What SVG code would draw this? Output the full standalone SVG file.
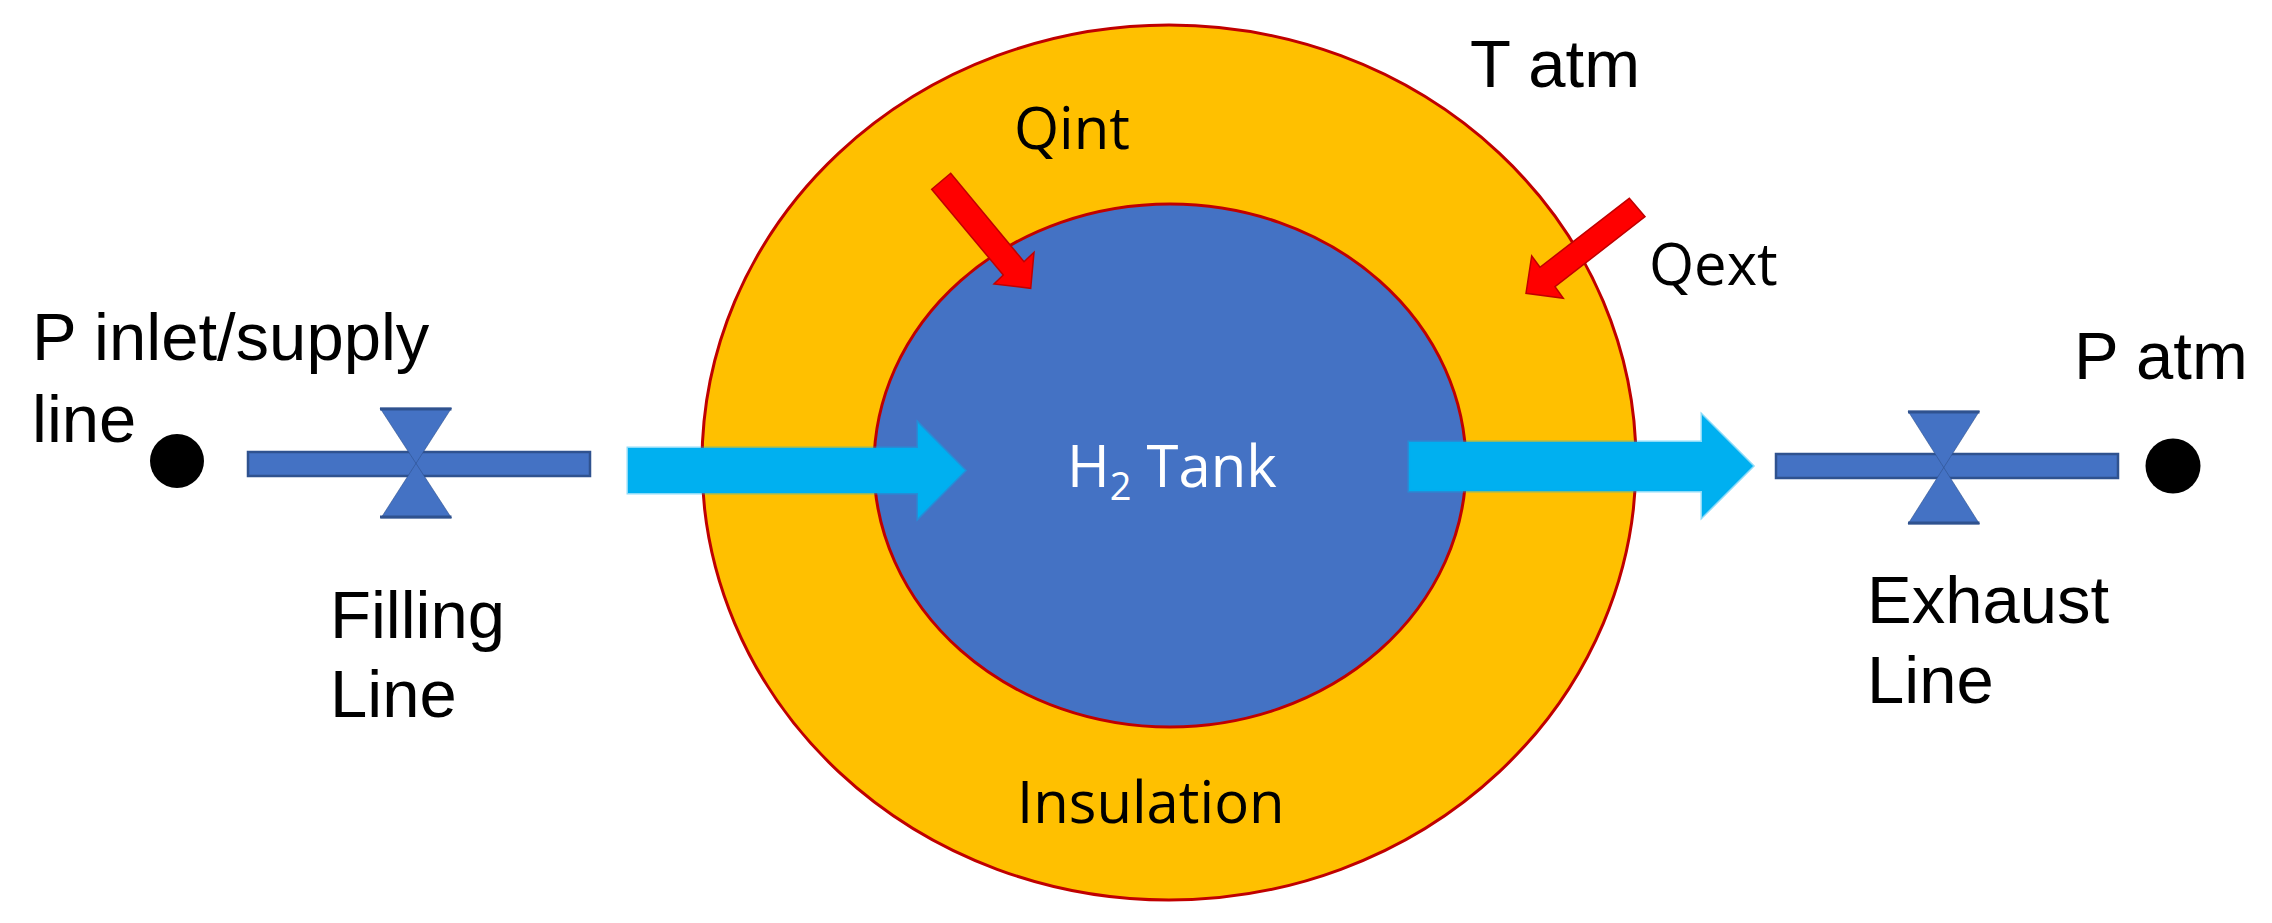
<svg xmlns="http://www.w3.org/2000/svg" width="2272" height="923" viewBox="0 0 2272 923">
<style>
text{font-family:"Liberation Sans",Arial,sans-serif;fill:#000}
.big{font-size:67px}
text.seg{font-family:"Open Sans","Liberation Sans",sans-serif;font-size:58px}
.ring{stroke:#c00000;stroke-width:3}
.bar{fill:#4472c4;stroke:#2f528f;stroke-width:2.500}
.valve{fill:#4472c4;stroke:#2f528f;stroke-width:1;stroke-opacity:.6}
.cap{stroke:#2f528f;stroke-width:3;fill:none}
.flow{fill:#00b0f0;stroke:#00b0f0;stroke-width:3;stroke-opacity:.45}
.heat{fill:#f00;stroke:#c00000;stroke-width:1.500}
</style>
<rect width="2272" height="923" fill="#fff"/>
<g id="insulation"><ellipse class="ring" cx="1169" cy="462.500" rx="467" ry="437.500" fill="#ffc000"/><text class="seg" x="1017" y="823">Insulation</text></g>
<g id="tank"><ellipse class="ring" cx="1170" cy="465.500" rx="296" ry="261.500" fill="#4472c4"/><text class="seg" x="1067" y="487" style="fill:#fff">H<tspan dy="13" style="font-size:38px">2</tspan><tspan dy="-13"> Tank</tspan></text></g>
<g id="filling-line"><rect class="bar" x="248" y="452" width="342" height="24"/><path class="valve" d="M380 408H451.500L381 518H451.500Z"/><path class="cap" d="M380 409H451.500M380 517H451.500"/><text class="big" x="330" y="638">Filling</text><text class="big" x="330" y="717">Line</text></g>
<g id="exhaust-line"><rect class="bar" x="1776" y="454" width="342" height="24"/><path class="valve" d="M1908 411H1979.500L1908 524H1979.500Z"/><path class="cap" d="M1908 412H1979.500M1908 523H1979.500"/><text class="big" x="1867" y="623">Exhaust</text><text class="big" x="1867" y="703">Line</text></g>
<g id="inlet"><circle cx="177" cy="461" r="27"/><text class="big" x="32" y="360">P inlet/supply</text><text class="big" x="32" y="442">line</text></g>
<g id="outlet"><circle cx="2173" cy="466" r="27.500"/><text class="big" x="2074" y="379">P atm</text></g>
<g id="t-atm"><text class="big" x="1470" y="87">T atm</text></g>
<g id="qint"><text class="seg" x="1014" y="149">Qint</text></g>
<g id="qext"><text class="seg" x="1649" y="285">Qext</text></g>
<g id="connectors">
<path class="flow" d="M628 448H918V423L965 470.500L918 518V493H628Z"/>
<path class="flow" d="M1409 442H1702V415L1753 466L1702 517V491H1409Z"/>
<path class="heat" d="M950.700 173.300L931.700 189.300L1003.300 275L994 284L1030.700 288.300L1034 252.300L1024 261.700Z"/>
<path class="heat" d="M1629.300 198.300L1645 216.700L1555 286.700L1563.300 298.300L1526 293.300L1531.700 256L1540 267.300Z"/>
</g>
</svg>
